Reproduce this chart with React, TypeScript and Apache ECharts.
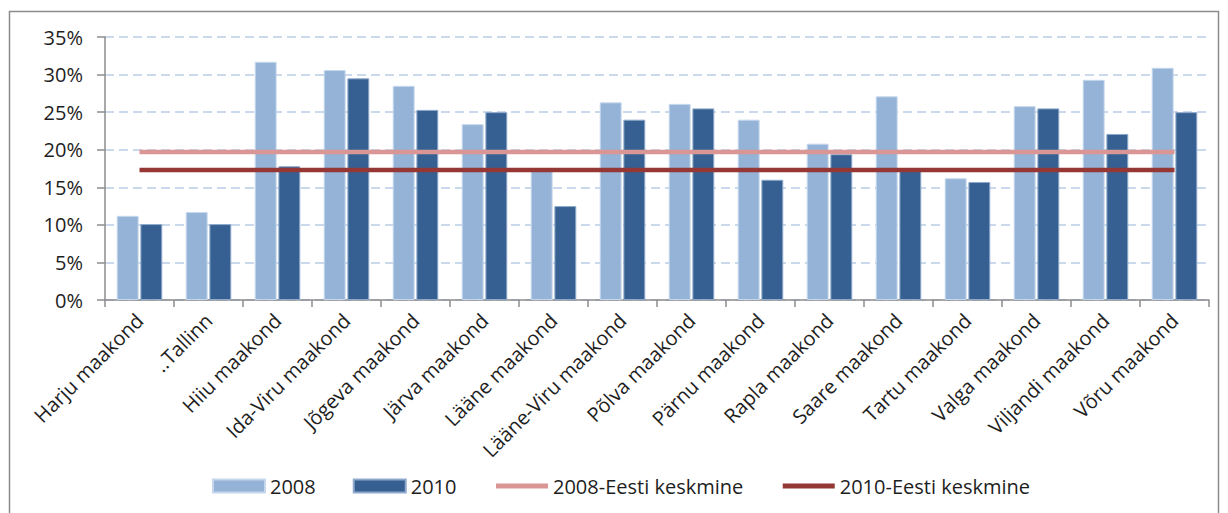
import React, { useEffect, useRef } from "react";
import * as echarts from "echarts";

const categories = [
  "Harju maakond", "..Tallinn", "Hiiu maakond", "Ida-Viru maakond", "Jõgeva maakond",
  "Järva maakond", "Lääne maakond", "Lääne-Viru maakond", "Põlva maakond", "Pärnu maakond",
  "Rapla maakond", "Saare maakond", "Tartu maakond", "Valga maakond", "Viljandi maakond", "Võru maakond",
];
const values2008 = [11.2, 11.7, 31.7, 30.6, 28.5, 23.4, 17.3, 26.3, 26.1, 24.0, 20.8, 27.1, 16.2, 25.8, 29.3, 30.9];
const values2010 = [10.1, 10.1, 17.8, 29.5, 25.3, 25.0, 12.5, 24.0, 25.5, 16.0, 19.4, 17.3, 15.7, 25.5, 22.1, 25.0];
const avg2008 = [19.7, 19.7, 19.7, 19.7, 19.7, 19.7, 19.7, 19.7, 19.7, 19.7, 19.7, 19.7, 19.7, 19.7, 19.7, 19.7];
const avg2010 = [17.3, 17.3, 17.3, 17.3, 17.3, 17.3, 17.3, 17.3, 17.3, 17.3, 17.3, 17.3, 17.3, 17.3, 17.3, 17.3];
const yTicks = [0, 5, 10, 15, 20, 25, 30, 35];

const FONT = "'Open Sans', sans-serif";
const TEXT = "#1e1e1e";

export default function App() {
  const ref = useRef<HTMLDivElement>(null);
  useEffect(() => {
    if (!ref.current) return;
    const chart = echarts.init(ref.current, undefined, { renderer: "svg" });
    chart.setOption({
      animation: false,
      textStyle: { fontFamily: FONT },
      graphic: [
        {
          type: "rect",
          shape: { x: 1.5, y: 3.5, width: 1209, height: 520 },
          style: { fill: "none", stroke: "#8c8c8c", lineWidth: 1.5 },
          silent: true,
          z: -1,
        },
      ],
      grid: { left: 97, top: 29, right: 19, bottom: 213, containLabel: false },
      legend: {
        left: 199,
        top: 463,
        itemGap: 37,
        itemWidth: 52,
        itemHeight: 13,
        textStyle: { fontFamily: FONT, fontSize: 20, color: TEXT },
        data: [
          { name: "2008", icon: "rect" },
          { name: "2010", icon: "rect" },
          { name: "2008-Eesti keskmine", itemStyle: { opacity: 0 }, lineStyle: { width: 5, color: "#d99694" } },
          { name: "2010-Eesti keskmine", itemStyle: { opacity: 0 }, lineStyle: { width: 5, color: "#953735" } },
        ],
      },
      xAxis: {
        type: "category",
        data: categories,
        axisLine: { lineStyle: { color: "#8c8c8c", width: 1.5 } },
        axisTick: { show: true, length: 7, alignWithLabel: false, lineStyle: { color: "#8c8c8c", width: 1.5 } },
        axisLabel: { rotate: 45, fontSize: 20, color: TEXT, fontFamily: FONT, interval: 0, margin: 17 },
      },
      yAxis: {
        type: "value",
        min: 0,
        max: 35,
        interval: 5,
        axisLine: { show: true, lineStyle: { color: "#8c8c8c", width: 1.5 } },
        axisTick: { show: true, length: 8, lineStyle: { color: "#8c8c8c", width: 1.5 } },
        axisLabel: {
          fontSize: 20,
          color: TEXT,
          fontFamily: FONT,
          margin: 22,
          formatter: (v: number) => (yTicks.includes(v) ? v + "%" : ""),
        },
        splitLine: { show: true, lineStyle: { color: "#b9cde5", type: [9, 5], width: 1.5 } },
      },
      series: [
        {
          name: "2008",
          type: "bar",
          data: values2008,
          barGap: "8%",
          barCategoryGap: "34%",
          itemStyle: { color: "#95b3d7", borderColor: "#c5d7ec", borderWidth: 1 },
        },
        {
          name: "2010",
          type: "bar",
          data: values2010,
          itemStyle: { color: "#366092", borderColor: "#8ea9cc", borderWidth: 1 },
        },
        {
          name: "2008-Eesti keskmine",
          type: "line",
          data: avg2008,
          symbol: "none",
          lineStyle: { color: "#d99694", width: 4.5 },
          itemStyle: { color: "#d99694" },
          z: 3,
        },
        {
          name: "2010-Eesti keskmine",
          type: "line",
          data: avg2010,
          symbol: "none",
          lineStyle: { color: "#953735", width: 4.5 },
          itemStyle: { color: "#953735" },
          z: 3,
        },
      ],
    });
    return () => chart.dispose();
  }, []);
  return <div ref={ref} style={{ width: 1220, height: 505 }} />;
}
